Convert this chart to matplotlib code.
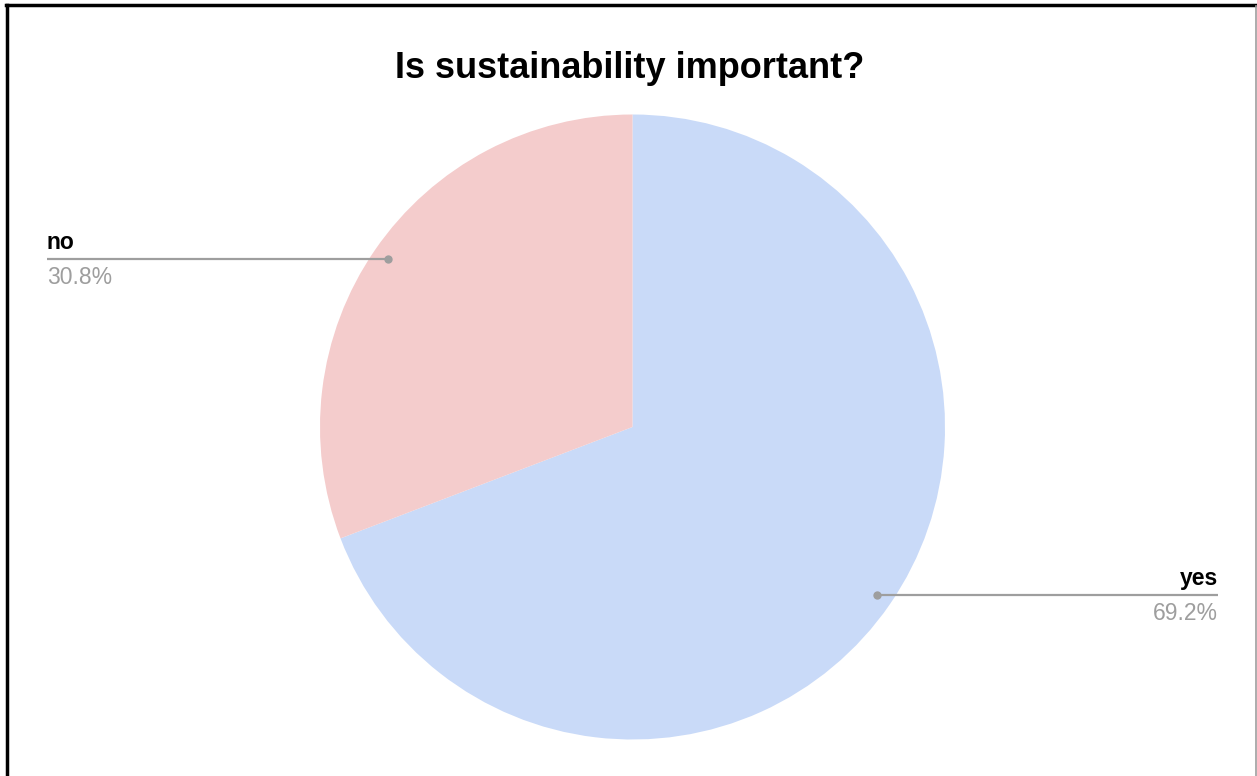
import matplotlib
matplotlib.use("Agg")
import matplotlib.pyplot as plt
from matplotlib.lines import Line2D
import numpy as np

categories = ["yes", "no"]
values = [69.2, 30.8]
pct_labels = ["69.2%", "30.8%"]
colors = ["#c9daf8", "#f4cccc"]
title = "Is sustainability important?"

W, H = 1257, 776
fig = plt.figure(figsize=(W / 100, H / 100), dpi=100)
ax = fig.add_axes([0, 0, 1, 1])
ax.set_xlim(0, W)
ax.set_ylim(0, H)
ax.set_aspect("equal")
ax.axis("off")

cx, cy, R = 632.5, H - 427, 312.5
wedges, _ = ax.pie(values, colors=colors, startangle=90, counterclock=False,
                   center=(cx, cy), radius=R, frame=True,
                   wedgeprops=dict(linewidth=0))
ax.set_xlim(0, W)
ax.set_ylim(0, H)
ax.axis("off")

font = "Liberation Sans"
ax.text(W / 2 + 1, H - 68, title, ha="center", va="center", fontsize=26,
        fontweight="bold", family=font, color="#000000")

line_color = "#9e9e9e"
label_x = {"yes": 1218, "no": 47}
for w, cat, pct in zip(wedges, categories, pct_labels):
    mid = np.deg2rad((w.theta1 + w.theta2) / 2)
    px = cx + 0.95 * R * np.cos(mid)
    py = cy + 0.95 * R * np.sin(mid)
    ex = label_x[cat]
    ax.plot([px, ex], [py, py], color=line_color, lw=1.6, solid_capstyle="butt")
    ax.plot([px], [py], "o", color=line_color, ms=6, mec="none")
    ha = "left" if ex < px else "right"
    ax.text(ex, py + 5, cat, ha=ha, va="bottom", fontsize=16.5, fontweight="bold",
            family=font, color="#000000")
    ax.text(ex, py - 7, pct, ha=ha, va="top", fontsize=16.5,
            family=font, color="#9e9e9e")

# frame border
fig.add_artist(Line2D([7 / W, 7 / W], [0, 1 - 5 / H], transform=fig.transFigure,
                      color="#000000", lw=2.5))
fig.add_artist(Line2D([5.5 / W, 1], [1 - 5 / H, 1 - 5 / H], transform=fig.transFigure,
                      color="#000000", lw=2.5))
fig.add_artist(Line2D([1 - 1 / W, 1 - 1 / W], [0, 1 - 6 / H], transform=fig.transFigure,
                      color="#9e9e9e", lw=1.2))

fig.savefig("out.png", dpi=100, facecolor="white")
